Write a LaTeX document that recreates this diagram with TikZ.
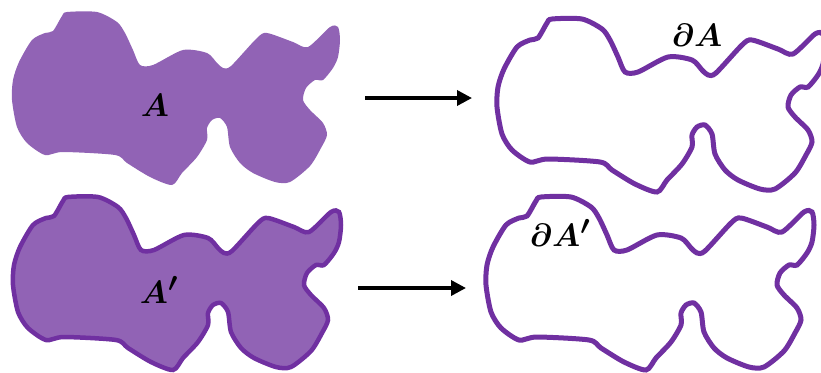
\documentclass[tikz,border=0pt]{standalone}
\usepackage{amsmath}
\usepackage{bm}
\usepackage{tikz}
\usetikzlibrary{arrows.meta,calc,positioning}
\definecolor{regionfill}{rgb}{0.57,0.39,0.71}
\definecolor{regionline}{rgb}{0.44,0.19,0.63}
\newcommand{\regionpath}{plot[smooth cycle, tension=0.45] coordinates {
  (67,12) (97,12) (117,22) (125,33) (133,50) (140,65) (153,65)
  (183,50) (207,53) (217,63) (223,68) (231,66) (257,38) (267,33)
  (293,42) (308,47) (330,27) (338,27) (340,40) (338,57) (333,68)
  (323,80) (315,80) (306,88) (303,100) (310,110) (323,123) (327,135)
  (321,148) (310,166) (290,182) (275,182) (253,173) (240,163) (230,147)
  (227,127) (220,118) (212,120) (207,128) (207,140) (197,157) (182,173)
  (172,185) (150,177) (127,163) (115,155) (63,152) (45,155) (27,143)
  (17,127) (12,100) (13,80) (19,62) (32,40) (45,33) (53,31) (62,16)
}}
\tikzset{
  solid/.style={
    fill=regionfill,
    draw=none
  },
  solidrim/.style={
    fill=regionfill,
    draw=regionline,
    line width=4.5pt
  },
  rim/.style={
    draw=regionline,
    line width=5pt,
    fill=none
  },
  lbl/.style={
    inner sep=0pt,
    scale=1.3,
    transform shape,
    font=\Huge
  },
  arrow/.style={
    -{Triangle[length=15pt,width=15pt]},
    line width=3.5pt,
    black
  }
}
\begin{document}
\begin{tikzpicture}[x=1pt,y=-1pt]
\useasboundingbox (0,0) rectangle (821,372);
% sets and their boundaries
\path[solid] \regionpath;
\path[rim, shift={(485,7)}] \regionpath;
\path[solidrim, shift={(1,185)}] \regionpath;
\path[rim, shift={(474,185)}] \regionpath;
\node[lbl] (setA) at (155,105) {$\bm{A}$};
\node[lbl] (bdA) at (697,35) {$\bm{\partial A}$};
\node[lbl] (setAp) at (159,290) {$\bm{A'}$};
\node[lbl] (bdAp) at (560,233) {$\bm{\partial A'}$};
% maps
\coordinate (topfrom) at (365,98);
\coordinate (topto) at (472,98);
\coordinate (botfrom) at (358,288);
\coordinate (botto) at (466,288);
\draw[arrow] (topfrom) -- (topto);
\draw[arrow] (botfrom) -- (botto);
\end{tikzpicture}
\end{document}
